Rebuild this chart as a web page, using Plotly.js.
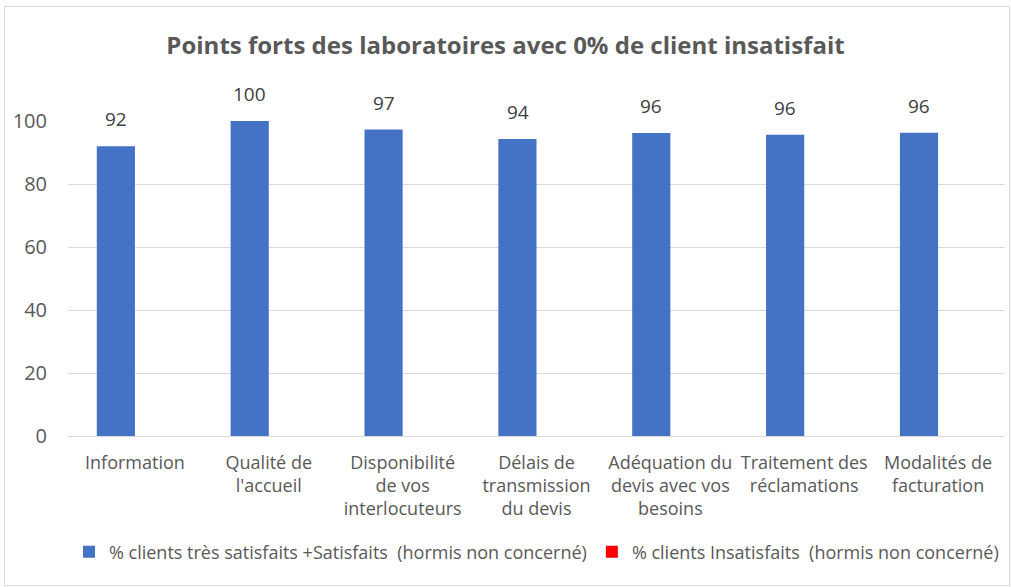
<!DOCTYPE html>
<html>
<head>
<meta charset="utf-8">
<script src="https://cdn.plot.ly/plotly-3.0.1.min.js"></script>
<style>
  body { margin: 0; background: #fff; }
  #frame { position: absolute; left: 4px; top: 6px; width: 1004px; height: 578px; border: 1px solid #d9d9d9; }
  #chart { position: absolute; left: 0; top: 0; width: 1011px; height: 587px; }
</style>
</head>
<body>
<div id="frame"></div>
<div id="chart"></div>
<script>
const categories = [
    'Information',
    'Qualité de<br>l\'accueil',
    'Disponibilité<br>de vos<br>interlocuteurs',
    'Délais de<br>transmission<br>du devis',
    'Adéquation du<br>devis avec vos<br>besoins',
    'Traitement des<br>réclamations',
    'Modalités de<br>facturation'
];
const satisfaits = [92, 100, 97.3, 94.3, 96.2, 95.6, 96.3];
const insatisfaits = [0, 0, 0, 0, 0, 0, 0];
const seriesNames = [
    '% clients très satisfaits +Satisfaits  (hormis non concerné)',
    '% clients Insatisfaits  (hormis non concerné)'
];

const font = 'Open Sans, Noto Sans, sans-serif';

// value labels above the blue bars (blue bar sits in left half of each group)
const labels = categories.map((c, i) => ({
    x: c,
    y: satisfaits[i],
    text: Math.round(satisfaits[i]).toString(),
    xref: 'x',
    yref: 'y',
    showarrow: false,
    yanchor: 'bottom',
    xshift: -19,
    yshift: 12,
    font: { family: font, size: 19, color: '#404040' }
}));

Plotly.newPlot('chart', [
    {
        name: seriesNames[0],
        x: categories,
        y: satisfaits,
        type: 'bar',
        marker: { color: '#4472c4' },
        hoverinfo: 'none'
    },
    {
        name: seriesNames[1],
        x: categories,
        y: insatisfaits,
        type: 'bar',
        marker: { color: '#ff0000' },
        hoverinfo: 'none'
    }
], {
    width: 1011,
    height: 587,
    paper_bgcolor: 'rgba(0,0,0,0)',
    plot_bgcolor: 'rgba(0,0,0,0)',
    margin: { t: 121, r: 6, b: 151, l: 68 },
    title: {
        text: '<b>Points forts des laboratoires avec 0% de client insatisfait</b>',
        font: { family: font, size: 24, color: '#595959' },
        x: 0.5,
        xanchor: 'center',
        y: 0.922,
        yanchor: 'middle'
    },
    barmode: 'group',
    bargap: 0.43,
    bargroupgap: 0,
    annotations: labels,
    xaxis: {
        tickfont: { family: font, size: 18, color: '#595959' },
        showline: true,
        linecolor: '#d9d9d9',
        linewidth: 1,
        ticks: '',
        ticklabelstandoff: 10,
        automargin: false,
        fixedrange: true
    },
    yaxis: {
        range: [0, 100],
        dtick: 20,
        tickfont: { family: font, size: 20, color: '#595959' },
        gridcolor: '#d9d9d9',
        zeroline: false,
        showline: false,
        ticks: '',
        ticklabelstandoff: 20,
        automargin: false,
        fixedrange: true
    },
    legend: {
        orientation: 'h',
        x: 0.5,
        xanchor: 'center',
        y: -0.31,
        yanchor: 'top',
        font: { family: font, size: 18, color: '#595959' },
        itemwidth: 30
    },
    showlegend: true
}, { displayModeBar: false, staticPlot: true });
</script>
</body>
</html>
